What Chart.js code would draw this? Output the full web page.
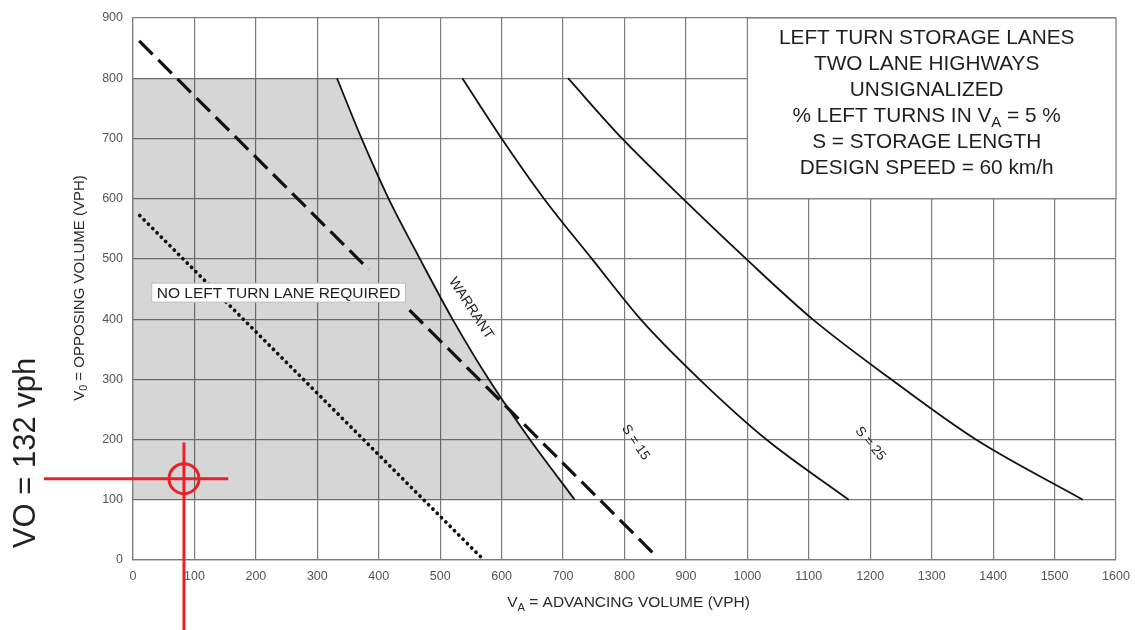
<!DOCTYPE html>
<html><head><meta charset="utf-8">
<script src="https://cdn.jsdelivr.net/npm/chart.js@4.4.1/dist/chart.umd.min.js"></script>
<style>html,body{margin:0;padding:0;background:#fff;overflow:hidden}#wrap{width:1135px;height:630px;position:relative}</style>
</head><body><div id="wrap"><canvas id="c"></canvas></div>
<script>
// ---- data ----
const xTicks = [0,100,200,300,400,500,600,700,800,900,1000,1100,1200,1300,1400,1500,1600];
const xTickLabels = ['0','100','200','300','400','500','600','700','800','900','1000','1100','1200','1300','1400','1500','1600'];
const yTicks = [0,100,200,300,400,500,600,700,800,900];
const yTickLabels = ['0','100','200','300','400','500','600','700','800','900'];

const opposingLevels = [800,700,600,500,400,300,200,100];      // V0 (vph)
const warrantVA = [332,372,416,467,520,579,646,719];           // V_A on WARRANT curve
const s15VA     = [536,600,669,747,826,922,1031,1165];         // V_A on S = 15 curve
const s25VA     = [708,796,895,998,1106,1234,1372,1546];       // V_A on S = 25 curve

const dashedVA = [10,384,417,450,853];
const dashedVO = [862,482,null,415,5];
const dottedVA = [11,571];
const dottedVO = [572,0];

const markerVA = 83;
const markerVO = 135;
const markerText = 'VO = 132 vph';

const titleLines = ['LEFT TURN STORAGE LANES','TWO LANE HIGHWAYS','UNSIGNALIZED','% LEFT TURNS IN V|A| = 5 %','S = STORAGE LENGTH','DESIGN SPEED = 60 km/h'];

// ---- build datasets ----
const pts = (xs, ys) => xs.map((v,i)=>({x:v,y:ys[i]}));
const shadePoly = [{x:0,y:opposingLevels[0]}]
  .concat(pts(warrantVA, opposingLevels))
  .concat([{x:0,y:opposingLevels[opposingLevels.length-1]}]);

const RED = '#e8202a';
const FONT = '"Liberation Sans", Arial, Helvetica, sans-serif';

const datasets = [
  {data:[{x:markerVA,y:markerVO}], showLine:false, pointRadius:15, pointHoverRadius:15, pointBorderColor:RED, pointBorderWidth:3, pointBackgroundColor:'rgba(0,0,0,0)', clip:false},
  {data:[{x:markerVA-228,y:markerVO},{x:markerVA+72,y:markerVO}], borderColor:RED, borderWidth:3, pointRadius:0, clip:false},
  {data:[{x:markerVA,y:markerVO+60},{x:markerVA,y:markerVO-255}], borderColor:RED, borderWidth:3, pointRadius:0, clip:false},
  {data:pts(dashedVA,dashedVO), borderColor:'#111', borderWidth:3.2, borderDash:[19,8], pointRadius:0, spanGaps:false},
  {data:pts(dottedVA,dottedVO), borderColor:'#111', borderWidth:3.7, borderDash:[0.1,6], borderCapStyle:'round', pointRadius:0},
  {data:pts(warrantVA,opposingLevels), borderColor:'#111', borderWidth:1.8, pointRadius:0, cubicInterpolationMode:'monotone'},
  {data:pts(s15VA,opposingLevels), borderColor:'#111', borderWidth:1.8, pointRadius:0, cubicInterpolationMode:'monotone'},
  {data:pts(s25VA,opposingLevels), borderColor:'#111', borderWidth:1.8, pointRadius:0, cubicInterpolationMode:'monotone'},
  {data:shadePoly, borderWidth:0, borderColor:'rgba(0,0,0,0)', backgroundColor:'rgba(0,0,0,0.16)', fill:'shape', pointRadius:0, tension:0}
];

function richWidth(ctx, parts, size){
  let w=0;
  parts.forEach(p=>{ctx.font=(p.sub?size*0.72:size)+'px '+FONT; w+=ctx.measureText(p.t).width;});
  return w;
}
function parseRich(s){ // 'V|A| = ...' -> parts with subscript
  const a=s.split('|'); return a.map((t,i)=>({t, sub: i%2===1})).filter(p=>p.t.length);
}
function drawRich(ctx, s, cx, cy, size){
  const parts=parseRich(s);
  const w=richWidth(ctx,parts,size);
  let x=cx-w/2;
  ctx.textBaseline='middle'; ctx.textAlign='left';
  parts.forEach(p=>{
    const sz=p.sub?size*0.72:size;
    ctx.font=sz+'px '+FONT;
    ctx.fillText(p.t,x,cy+(p.sub?size*0.3:0));
    x+=ctx.measureText(p.t).width;
  });
}

const annot = {
  id:'annot',
  afterDatasetsDraw(chart){
    const {ctx, scales:{x,y}} = chart;
    ctx.save();
    // title box
    const bx0=x.getPixelForValue(1000), bx1=x.getPixelForValue(1600);
    const by0=y.getPixelForValue(900), by1=y.getPixelForValue(600);
    ctx.fillStyle='#fff'; ctx.fillRect(bx0,by0,bx1-bx0,by1-by0);
    ctx.strokeStyle='#808080'; ctx.lineWidth=1.2; ctx.strokeRect(bx0,by0,bx1-bx0,by1-by0);
    ctx.fillStyle='#1e1e1e';
    titleLines.forEach((t,i)=>drawRich(ctx,t,(bx0+bx1)/2-5,by0+20.5+i*26,20.8));

    // NO LEFT TURN LANE REQUIRED box
    const lx=x.getPixelForValue(237), ly=y.getPixelForValue(444);
    ctx.font='15.5px '+FONT;
    const lt='NO LEFT TURN LANE REQUIRED';
    const lw=ctx.measureText(lt).width+10;
    ctx.fillStyle='#fff'; ctx.fillRect(lx-lw/2,ly-9.5,lw,19);
    ctx.strokeStyle='#bdbdbd'; ctx.lineWidth=1; ctx.strokeRect(lx-lw/2,ly-9.5,lw,19);
    ctx.fillStyle='#1e1e1e'; ctx.textAlign='center'; ctx.textBaseline='middle';
    ctx.fillText(lt,lx,ly+1);

    // rotated curve labels
    const rot=(t,va,vo,deg,size)=>{
      ctx.save(); ctx.translate(x.getPixelForValue(va),y.getPixelForValue(vo));
      ctx.rotate(deg*Math.PI/180); ctx.font=size+'px '+FONT; ctx.fillStyle='#1e1e1e';
      ctx.textAlign='center'; ctx.textBaseline='middle'; ctx.fillText(t,0,0); ctx.restore();
    };
    rot('WARRANT',550,418,57,14);
    rot('S = 15',818,195,56,13.5);
    rot('S = 25',1200,193,50,13.5);

    // axis titles
    ctx.fillStyle='#2a2a2a';
    drawRich(ctx,'V|A| = ADVANCING VOLUME (VPH)',(chart.chartArea.left+chart.chartArea.right)/2+4,603,15.5);
    ctx.save(); ctx.translate(80,(chart.chartArea.top+chart.chartArea.bottom)/2-1); ctx.rotate(-Math.PI/2);
    drawRich(ctx,'V|0| = OPPOSING VOLUME (VPH)',0,0,15); ctx.restore();

    // marker text
    ctx.save(); ctx.translate(35,453); ctx.rotate(-Math.PI/2);
    ctx.font='31px '+FONT; ctx.fillStyle='#222'; ctx.textAlign='center'; ctx.textBaseline='alphabetic';
    ctx.fillText(markerText,0,0); ctx.restore();
    ctx.restore();
  }
};

const GRID='#7c7c7c';
new Chart(document.getElementById('c'),{
  type:'line',
  data:{datasets},
  options:{
    responsive:true, maintainAspectRatio:false, animation:false,
    layout:{padding:{left:0,right:19,top:13,bottom:0}},
    plugins:{legend:{display:false}, tooltip:{enabled:false}},
    events:[],
    scales:{
      x:{type:'linear', min:0, max:1600,
        afterBuildTicks:s=>{s.ticks=xTicks.map(v=>({value:v}));},
        afterFit:s=>{s.height=70; s.paddingLeft=0; s.paddingRight=0;},
        ticks:{autoSkip:false, maxRotation:0, padding:9, color:'#555', font:{family:FONT,size:12.5},
          callback:v=>xTickLabels[xTicks.indexOf(v)]},
        grid:{color:GRID, lineWidth:1.2, drawTicks:false},
        border:{display:true,color:GRID,width:1.2}
      },
      y:{type:'linear', min:0, max:900,
        afterBuildTicks:s=>{s.ticks=yTicks.map(v=>({value:v}));},
        afterFit:s=>{s.width=133; s.paddingTop=0; s.paddingBottom=0;},
        ticks:{autoSkip:false, padding:10, color:'#555', font:{family:FONT,size:12.5},
          callback:v=>yTickLabels[yTicks.indexOf(v)]},
        grid:{color:GRID, lineWidth:1.2, drawTicks:false},
        border:{display:true,color:GRID,width:1.2}
      }
    }
  },
  plugins:[annot]
});
</script></body></html>
